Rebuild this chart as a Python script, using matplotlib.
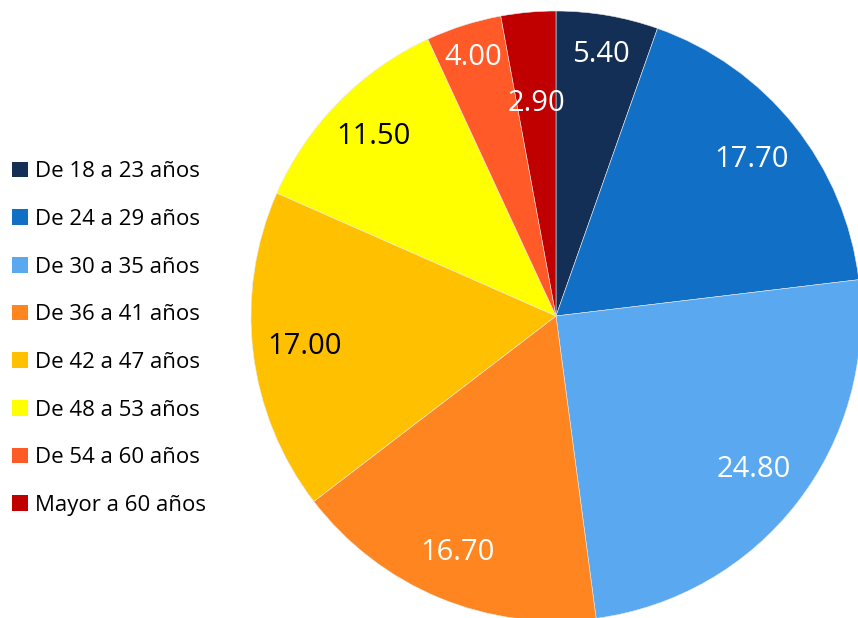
import numpy as np
import matplotlib
matplotlib.use("Agg")
import matplotlib.pyplot as plt
from matplotlib.patches import Patch

# grupos de edad y porcentajes
grupos = ['De 18 a 23 años', 'De 24 a 29 años', 'De 30 a 35 años', 'De 36 a 41 años',
          'De 42 a 47 años', 'De 48 a 53 años', 'De 54 a 60 años', 'Mayor a 60 años']
valores = [5.40, 17.70, 24.80, 16.70, 17.00, 11.50, 4.00, 2.90]
colores = ['#142f55', '#126fc6', '#5aa9f0', '#ff8520', '#ffc000', '#ffff00', '#ff5a28', '#c00000']
color_texto = ['white', 'white', 'white', 'white', 'black', 'black', 'white', 'white']
# distancia radial de cada etiqueta (fraccion del radio)
dist_etiqueta = [0.87, 0.82, 0.82, 0.84, 0.83, 0.84, 0.89, 0.70]

plt.rcParams['font.family'] = ['Open Sans', 'DejaVu Sans']

fig = plt.figure(figsize=(8.58, 6.18), dpi=100)
W, H = 858, 618
cx, cy, R = 556, 316, 305
ax = fig.add_axes([(cx - R) / W, (H - cy - R) / H, 2 * R / W, 2 * R / H])

wedges, _ = ax.pie(valores, colors=colores, startangle=90, counterclock=False,
                   radius=1, wedgeprops=dict(edgecolor='#e8e8e8', linewidth=0.4))
ax.set_xlim(-1, 1)
ax.set_ylim(-1, 1)
ax.set_aspect('equal')
ax.axis('off')

for w, v, c, d in zip(wedges, valores, color_texto, dist_etiqueta):
    ang = np.deg2rad((w.theta1 + w.theta2) / 2)
    ax.text(d * np.cos(ang), d * np.sin(ang), f'{v:.2f}', color=c,
            fontsize=21, ha='center', va='center')

handles = [Patch(facecolor=col, edgecolor='none') for col in colores]
fig.legend(handles, grupos, loc='center left', bbox_to_anchor=(0.004, 0.452),
           frameon=False, fontsize=16, handlelength=0.7, handleheight=0.7,
           handletextpad=0.3, labelspacing=1.2, borderaxespad=0)

fig.savefig('out.png', dpi=100)
